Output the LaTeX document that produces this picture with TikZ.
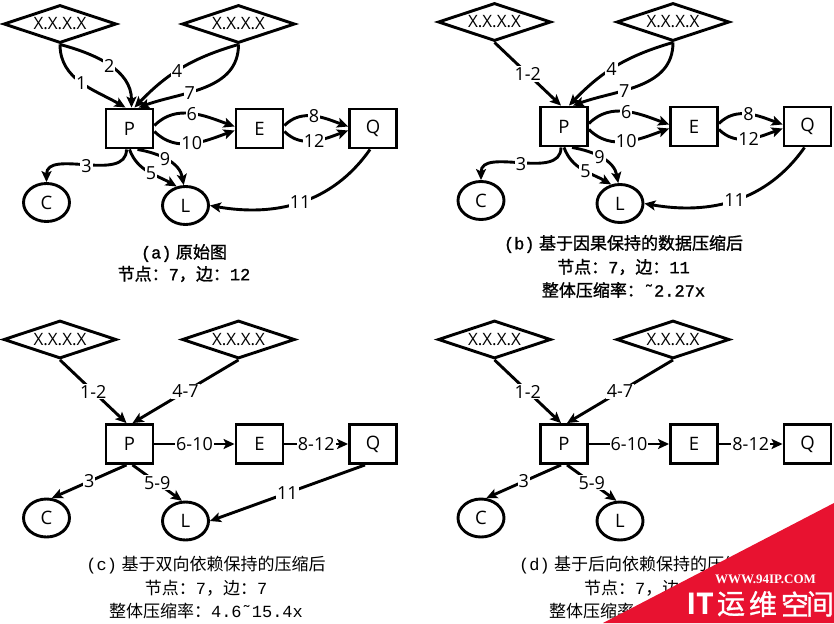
\documentclass[tikz,border=0pt]{standalone}
\usepackage{fontspec}
\setmainfont{Open Sans}
\newfontfamily\cjkfont{Noto Sans CJK SC}
\newfontfamily\cjkheavy[FakeBold=1.2]{Noto Sans CJK SC}
\newfontfamily\capmono[Scale=1.0]{Liberation Mono}
\newfontfamily\capmonoheavy[Scale=1.0,FakeBold=1.2]{Liberation Mono}
\newfontfamily\wmserif{Liberation Serif}
\usetikzlibrary{shapes.geometric,arrows.meta,calc}
\definecolor{wmred}{RGB}{232,18,48}
\newcommand\zhtxt[1]{{\cjkfont #1}}
\newcommand\lattxt[1]{{\capmono #1}}
\newcommand\zhbtxt[1]{{\cjkheavy #1}}
\newcommand\latbtxt[1]{{\capmonoheavy #1}}
\tikzset{
  box/.style={draw, line width=2.9pt, minimum width=47pt, minimum height=39pt, inner sep=0pt, font=\fontsize{18.5}{18.5}\selectfont},
  oval/.style={draw, ellipse, line width=2.9pt, minimum width=46pt, minimum height=38pt, inner sep=0pt, font=\fontsize{18.5}{18.5}\selectfont},
  dia/.style={draw, diamond, aspect=3, line width=2.9pt, minimum width=113pt, minimum height=38pt, inner sep=0pt, font=\fontsize{17}{17}\selectfont},
  edge/.style={line width=2.9pt, -{Stealth[length=11pt,width=10pt,inset=2.5pt]}},
  lbl/.style={fill=white, inner sep=1pt, font=\fontsize{18}{18}\selectfont},
  captext/.style={inner sep=0pt, font=\fontsize{17}{17}\selectfont},
}
\newcommand\mknodes[1]{%
  \node[dia] (#1D1) at (60,24) {X.X.X.X};
  \node[dia] (#1D2) at (238.5,24) {X.X.X.X};
  \node[box] (#1P) at (129.5,128.5) {P};
  \node[box] (#1E) at (259.5,128.5) {E};
  \node[box] (#1Q) at (373,128.5) {Q};
  \node[oval] (#1C) at (46.5,202.5) {C};
  \node[oval] (#1L) at (185.5,205.5) {L};
}
\newcommand\fulledges[1]{%
  \draw[edge] (#1D2.south) to[bend right=15] node[lbl,pos=0.55]{4} ([xshift=5pt]#1P.north);
  \draw[edge] (#1D2.south) to[out=-90,in=20] node[lbl,pos=0.62]{7} ([xshift=9pt]#1P.north);
  \draw[edge] ([yshift=3pt]#1P.east) to[out=45,in=160] node[lbl]{6} ([yshift=2pt]#1E.west);
  \draw[edge] ([yshift=-3pt]#1P.east) to[out=-45,in=-160] node[lbl]{10} ([yshift=-2pt]#1E.west);
  \draw[edge] ([yshift=3pt]#1E.east) to[out=45,in=160] node[lbl]{8} ([yshift=2pt]#1Q.west);
  \draw[edge] ([yshift=-3pt]#1E.east) to[out=-45,in=-160] node[lbl]{12} ([yshift=-2pt]#1Q.west);
  \draw[edge] ([xshift=-3pt]#1P.south) to[out=-90,in=90] node[lbl]{3} (#1C.north);
  \draw[edge] (#1P.south) to[out=-70,in=150] node[lbl,pos=0.55]{5} (#1L.115);
  \draw[edge] ([xshift=8pt]#1P.south) to[out=-10,in=100] node[lbl,pos=0.45]{9} (#1L.95);
  \draw[edge] ([xshift=-3pt]#1Q.south) to[out=-125,in=-10] node[lbl,pos=0.5]{11} (#1L.east);
}
\begin{document}
\begin{tikzpicture}[x=1pt,y=-1pt]
\useasboundingbox (0,0) rectangle (834,623);
\fill[white] (0,0) rectangle (834,623);
% ---------- (a)
\begin{scope}
  \mknodes{a}
  \draw[edge] (aD1.south) to[out=-90,in=150] node[lbl]{1} ([xshift=-4pt]aP.north);
  \draw[edge] (aD1.south) to[out=-15,in=90] node[lbl]{2} ([xshift=2pt]aP.north);
  \fulledges{a}
\end{scope}
% ---------- (b)
\begin{scope}[shift={(434.5,-2)}]
  \mknodes{b}
  \draw[edge] (bD1.south) -- node[lbl]{1-2} ([xshift=-3pt]bP.north);
  \fulledges{b}
\end{scope}
% ---------- (c)
\begin{scope}[shift={(0,315.5)}]
  \mknodes{c}
  \draw[edge] (cD1.south) -- node[lbl]{1-2} ([xshift=-3pt]cP.north);
  \draw[edge] (cD2.south) -- node[lbl]{4-7} ([xshift=3pt]cP.north);
  \draw[edge] (cP.east) -- node[lbl]{6-10} (cE.west);
  \draw[edge] (cE.east) -- node[lbl]{8-12} (cQ.west);
  \draw[edge] ([xshift=-3pt]cP.south) -- node[lbl]{3} (cC.75);
  \draw[edge] ([xshift=3pt]cP.south) -- node[lbl]{5-9} (cL.100);
  \draw[edge] ([xshift=-8pt]cQ.south) -- node[lbl]{11} (cL.east);
\end{scope}
% ---------- (d)
\begin{scope}[shift={(434.5,315.5)}]
  \mknodes{d}
  \draw[edge] (dD1.south) -- node[lbl]{1-2} ([xshift=-3pt]dP.north);
  \draw[edge] (dD2.south) -- node[lbl]{4-7} ([xshift=3pt]dP.north);
  \draw[edge] (dP.east) -- node[lbl]{6-10} (dE.west);
  \draw[edge] (dE.east) -- node[lbl]{8-12} (dQ.west);
  \draw[edge] ([xshift=-3pt]dP.south) -- node[lbl]{3} (dC.75);
  \draw[edge] ([xshift=3pt]dP.south) -- node[lbl]{5-9} (dL.100);
\end{scope}
% ---------- captions
\node[captext] (capa1) at (184,253) {\latbtxt{(a)} \zhbtxt{原始图}};
\node[captext] (capa2) at (184,274) {\zhbtxt{节点：}\latbtxt{7}\zhbtxt{，边：}\latbtxt{12}};
\node[captext] (capb1) at (623.5,244) {\latbtxt{(b)} \zhbtxt{基于因果保持的数据压缩后}};
\node[captext] (capb2) at (623.5,267) {\zhbtxt{节点：}\latbtxt{7}\zhbtxt{，边：}\latbtxt{11}};
\node[captext] (capb3) at (623.5,290) {\zhbtxt{整体压缩率：}\latbtxt{˜2.27x}};
\node[captext] (capc1) at (206,565) {\lattxt{(c)} \zhtxt{基于双向依赖保持的压缩后}};
\node[captext] (capc2) at (206,588) {\zhtxt{节点：}\lattxt{7}\zhtxt{，边：}\lattxt{7}};
\node[captext] (capc3) at (206,611) {\zhtxt{整体压缩率：}\lattxt{4.6˜15.4x}};
\node[captext,anchor=west] (capd1) at (519,565) {\lattxt{(d)} \zhtxt{基于后向依赖保持的压缩后}};
\node[captext,anchor=west] (capd2) at (584,588) {\zhtxt{节点：}\lattxt{7}\zhtxt{，边}};
\node[captext,anchor=west] (capd3) at (549,611) {\zhtxt{整体压缩率：}};
% ---------- watermark
\fill[wmred] (603,623) -- (834,503) -- (834,623) -- cycle;
\node[text=white, inner sep=0pt, font=\wmserif\bfseries\fontsize{13}{13}\selectfont] (wm1) at (765.5,579) {WWW.94IP.COM};
\node[text=white, inner sep=0pt, font=\bfseries\fontsize{30}{30}\selectfont] (wm2) at (700,604) {IT};
\node[text=white, inner sep=0pt, font=\cjkheavy\fontsize{28}{28}\selectfont] (wm3) at (731,604) {运};
\node[text=white, inner sep=0pt, font=\cjkheavy\fontsize{28}{28}\selectfont] (wm4) at (763,604) {维};
\node[text=white, inner sep=0pt, font=\cjkheavy\fontsize{28}{28}\selectfont] (wm5) at (795,604) {空};
\node[text=white, inner sep=0pt, font=\cjkheavy\fontsize{28}{28}\selectfont] (wm6) at (820,604) {间};
\end{tikzpicture}
\end{document}
